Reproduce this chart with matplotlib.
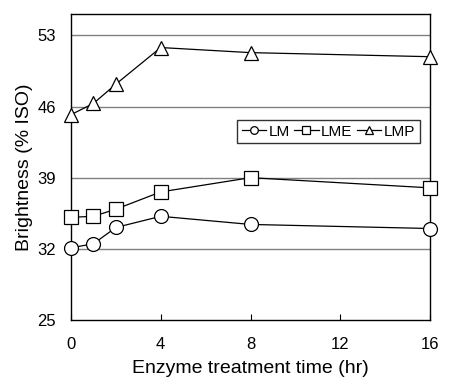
import numpy as np
import matplotlib.pyplot as plt

hours = [0, 1, 2, 4, 8, 16]
lm = [32.1, 32.5, 34.1, 35.2, 34.4, 34.0]
lme = [35.1, 35.2, 35.9, 37.6, 39.0, 38.0]
lmp = [45.2, 46.3, 48.2, 51.8, 51.3, 50.9]

x_ticks = [0, 4, 8, 12, 16]
y_ticks = [25, 32, 39, 46, 53]

plt.rcParams['font.family'] = ['Liberation Sans', 'DejaVu Sans']

fig = plt.figure(figsize=(4.5, 3.85), dpi=100)
ax = fig.add_axes([71/450, 1 - 320/385, (430-71)/450, (320-14)/385])

for yv in y_ticks[1:]:
    ax.axhline(yv, color='#808080', lw=1, zorder=1)

mk = dict(color='black', lw=0.9, mfc='white', mec='black', mew=0.9, ms=10, clip_on=False, zorder=3)
ax.plot(hours, lm, marker='o', label='LM', **mk)
ax.plot(hours, lme, marker='s', label='LME', **mk)
ax.plot(hours, lmp, marker='^', label='LMP', **mk)

ax.set_xlim(0, 16)
ax.set_ylim(25, 55.1)
ax.set_xticks(x_ticks)
ax.set_yticks(y_ticks)
ax.tick_params(axis='x', direction='in', length=4, labelsize=12, pad=12)
ax.tick_params(axis='y', length=0, labelsize=12, pad=11)
for s in ax.spines.values():
    s.set_linewidth(1)

ax.set_xlabel('Enzyme treatment time (hr)', fontsize=14, labelpad=6)
ax.set_ylabel('Brightness (% ISO)', fontsize=14, labelpad=3)

leg = ax.legend(loc='upper left', bbox_to_anchor=((237-71)/359, 1 - (120-14)/306), ncol=3,
                frameon=True, fancybox=False, edgecolor='black', fontsize=11,
                handlelength=1.6, handletextpad=0.15, columnspacing=0.3, borderpad=0.3,
                markerscale=0.55, borderaxespad=0)
leg.get_frame().set_linewidth(1)

fig.savefig('out.png', dpi=100)
